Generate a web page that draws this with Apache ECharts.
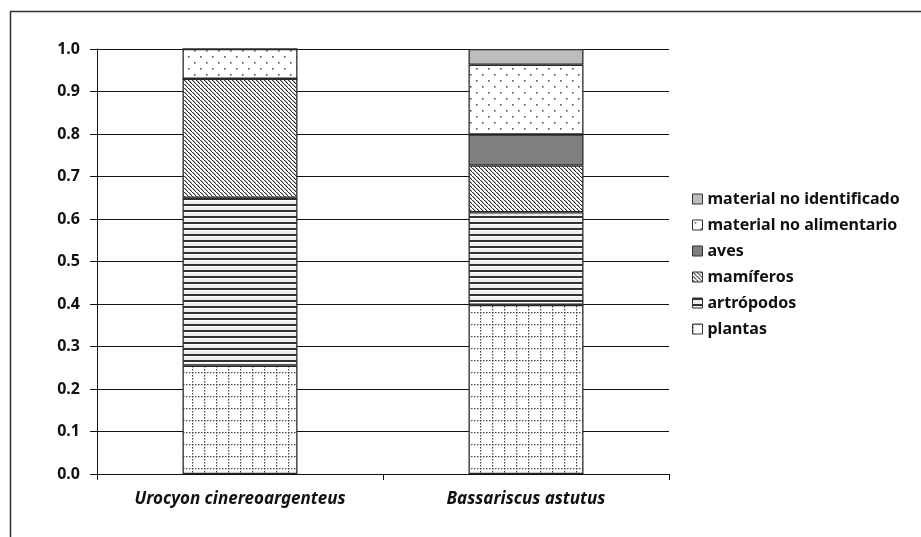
<!DOCTYPE html>
<html>
<head>
<meta charset="utf-8">
<script src="https://cdn.jsdelivr.net/npm/echarts@6/dist/echarts.min.js"></script>
<style>
  html, body { margin: 0; padding: 0; background: #fff; }
  #chartContainer { width: 921px; height: 537px; }
</style>
</head>
<body>
<div id="chartContainer"></div>
<script>
// datos
var especies = ['Urocyon cinereoargenteus', 'Bassariscus astutus'];
var plantas = [0.255, 0.398];
var artropodos = [0.395, 0.218];
var mamiferos = [0.28, 0.11];
var aves = [0, 0.073];
var noAlimentario = [0.07, 0.164];
var noIdentificado = [0, 0.037];
var yTicks = ['0.0', '0.1', '0.2', '0.3', '0.4', '0.5', '0.6', '0.7', '0.8', '0.9', '1.0'];

var fuente = '"Noto Sans", "Open Sans", sans-serif';

// tramas (patterns) para cada categoria
function trama(w, h, dibujar) {
    var c = document.createElement('canvas');
    c.width = w; c.height = h;
    var ctx = c.getContext('2d');
    ctx.fillStyle = '#fff';
    ctx.fillRect(0, 0, w, h);
    dibujar(ctx);
    return { image: c, repeat: 'repeat' };
}

var tPlantas = trama(12, 12, function (ctx) {
    ctx.fillStyle = '#444';
    for (var i = 0; i < 12; i += 3) {
        ctx.fillRect(0, i, 1.2, 1.5);
        ctx.fillRect(i, 0, 1.5, 1.2);
    }
});
var tArtro = trama(6, 6, function (ctx) {
    ctx.fillStyle = '#eee';
    ctx.fillRect(0, 3, 6, 3);
    ctx.fillStyle = '#333';
    ctx.fillRect(0, 0, 6, 2);
});
var tMami = trama(4, 4, function (ctx) {
    ctx.fillStyle = '#333';
    for (var i = 0; i < 4; i++) {
        ctx.fillRect(i, i, 1.4, 1);
    }
});
var tNoAli = trama(12, 12, function (ctx) {
    ctx.fillStyle = '#555';
    ctx.fillRect(2, 2, 1.6, 1.6);
    ctx.fillRect(8, 8, 1.6, 1.6);
});

var colores = {
    aves: '#7f7f7f',
    noIdent: '#bdbdbd'
};

function serie(nombre, datos, color) {
    return {
        name: nombre,
        type: 'bar',
        stack: 'dieta',
        barWidth: 115,
        data: datos,
        itemStyle: { color: color, borderColor: '#2a2a2a', borderWidth: 1.3 }
    };
}

var myChar = echarts.init(document.getElementById('chartContainer'));
var options = {
    animation: false,
    backgroundColor: '#fff',
    graphic: [{
        type: 'polyline',
        shape: { points: [[10.5, 600], [10.5, 11.5], [930, 11.5]] },
        style: { stroke: '#333', lineWidth: 1.5, fill: null }
    }],
    grid: {
        left: 97,
        top: 49,
        right: 252,
        bottom: 63
    },
    legend: {
        orient: 'vertical',
        left: 687,
        top: 186,
        itemGap: 10,
        itemWidth: 10,
        itemHeight: 10,
        icon: 'rect',
        itemStyle: { borderColor: '#333', borderWidth: 1 },
        textStyle: { fontFamily: fuente, fontWeight: 'bold', fontSize: 16, color: '#111' },
        data: ['material no identificado', 'material no alimentario', 'aves', 'mamíferos', 'artrópodos', 'plantas']
    },
    xAxis: {
        type: 'category',
        data: especies,
        axisLine: { lineStyle: { color: '#111', width: 1 } },
        axisTick: { show: true, length: 6, lineStyle: { color: '#111' } },
        axisLabel: {
            margin: 17,
            fontFamily: fuente, fontWeight: 'bold', fontStyle: 'italic', fontSize: 17, color: '#111'
        }
    },
    yAxis: {
        type: 'value',
        min: 0,
        max: 1,
        interval: 0.1,
        axisLine: { show: true, lineStyle: { color: '#111', width: 1 } },
        axisTick: { show: true, length: 7, lineStyle: { color: '#111' } },
        splitLine: { lineStyle: { color: '#111', width: 1 } },
        axisLabel: {
            margin: 17,
            fontFamily: fuente, fontWeight: 'bold', fontSize: 16, color: '#111',
            formatter: function (v) { return yTicks[Math.round(v * 10)]; }
        }
    },
    series: [
        serie('plantas', plantas, tPlantas),
        serie('artrópodos', artropodos, tArtro),
        serie('mamíferos', mamiferos, tMami),
        serie('aves', aves, colores.aves),
        serie('material no alimentario', noAlimentario, tNoAli),
        serie('material no identificado', noIdentificado, colores.noIdent)
    ]
};
myChar.setOption(options);
</script>
</body>
</html>
